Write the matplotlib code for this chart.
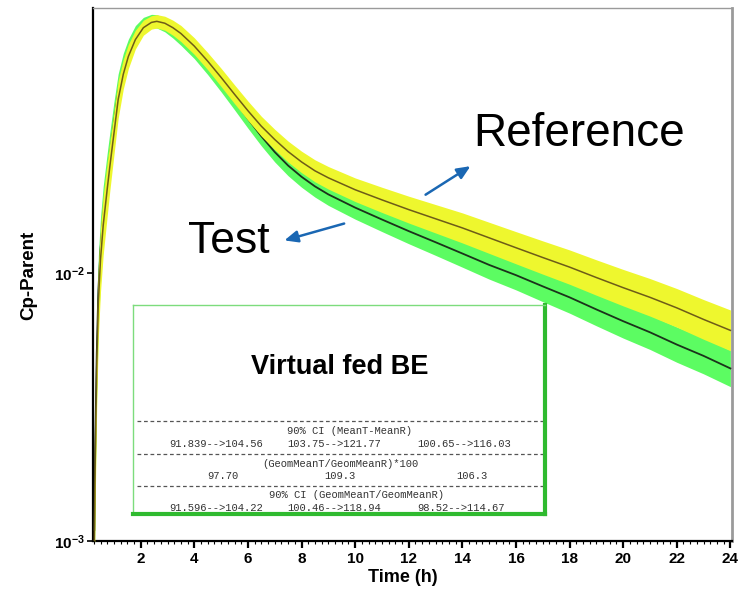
import numpy as np
import matplotlib
matplotlib.use('Agg')
import matplotlib.pyplot as plt
from matplotlib.ticker import FixedLocator, FixedFormatter, MultipleLocator, NullLocator

# mean concentration profiles
time_h = [0.27, 0.30, 0.36, 0.42, 0.50, 0.60, 0.75, 0.85, 1.00, 1.16,
          1.35, 1.54, 1.80, 2.10, 2.40, 2.60, 2.90, 3.20, 3.50, 4.00,
          4.50, 5.00, 5.50, 6.00, 6.50, 7.00, 7.50, 8.0, 8.5, 9.0,
          10.0, 11.0, 12.0, 13.0, 14.0, 15.0, 16.0, 17.0, 18.0, 19.0,
          20.0, 21.0, 22.0, 23.0, 24.0]
ref_mean = [0.0010, 0.0019, 0.0045, 0.0078, 0.0112, 0.0150, 0.0205, 0.0250, 0.0330, 0.0443,
            0.0550, 0.0641, 0.0740, 0.0820, 0.0858, 0.0866, 0.0852, 0.0820, 0.0780, 0.0700,
            0.0615, 0.0535, 0.0463, 0.0402, 0.0352, 0.0314, 0.0283, 0.0259, 0.0240, 0.0226,
            0.0204, 0.0187, 0.0172, 0.0159, 0.0147, 0.0135, 0.0124, 0.0114, 0.0105, 0.0096,
            0.0088, 0.0081, 0.0074, 0.0067, 0.0061]
test_mean = [0.0011, 0.0022, 0.0050, 0.0086, 0.0122, 0.0163, 0.0222, 0.0272, 0.0360, 0.0470,
             0.0580, 0.0670, 0.0770, 0.0840, 0.0868, 0.0866, 0.0840, 0.0800, 0.0755, 0.0675,
             0.0590, 0.0510, 0.0438, 0.0375, 0.0323, 0.0282, 0.0251, 0.0228, 0.0210, 0.0196,
             0.0175, 0.0158, 0.0143, 0.0130, 0.0118, 0.0107, 0.0098, 0.0089, 0.0081, 0.0073,
             0.0066, 0.0060, 0.0054, 0.0049, 0.0044]
# half width of the shaded bands, in decades
ref_spread = [0.15, 0.15, 0.14, 0.13, 0.12, 0.11, 0.10, 0.09, 0.08, 0.07,
              0.055, 0.045, 0.035, 0.028, 0.025, 0.025, 0.026, 0.028, 0.030, 0.031,
              0.032, 0.034, 0.035, 0.036, 0.037, 0.038, 0.039, 0.040, 0.041, 0.042,
              0.044, 0.047, 0.050, 0.053, 0.056, 0.058, 0.060, 0.062, 0.064, 0.066,
              0.068, 0.070, 0.072, 0.074, 0.076]
test_spread = [0.15, 0.15, 0.14, 0.13, 0.12, 0.11, 0.10, 0.09, 0.08, 0.07,
               0.055, 0.045, 0.035, 0.028, 0.025, 0.025, 0.026, 0.028, 0.030, 0.031,
               0.032, 0.033, 0.034, 0.035, 0.036, 0.037, 0.038, 0.039, 0.040, 0.041,
               0.043, 0.045, 0.047, 0.049, 0.051, 0.053, 0.055, 0.057, 0.059, 0.061,
               0.063, 0.064, 0.066, 0.067, 0.068]

x_ticks = [2, 4, 6, 8, 10, 12, 14, 16, 18, 20, 22, 24]
y_ticks = [1e-3, 1e-2]
y_tick_labels = [r'$\mathbf{10^{-3}}$', r'$\mathbf{10^{-2}}$']

box_title = 'Virtual fed BE'
ci_headers = ['90% CI (MeanT-MeanR)', '(GeomMeanT/GeomMeanR)*100', '90% CI (GeomMeanT/GeomMeanR)']
ci_values = [['91.839-->104.56', '103.75-->121.77', '100.65-->116.03'],
             ['97.70', '109.3', '106.3'],
             ['91.596-->104.22', '100.46-->118.94', '98.52-->114.67']]

plt.rcParams['font.family'] = ['Liberation Sans', 'DejaVu Sans']
plt.rcParams['mathtext.fontset'] = 'custom'
plt.rcParams['mathtext.bf'] = 'Liberation Sans:bold'
plt.rcParams['mathtext.rm'] = 'Liberation Sans'

W, H = 738, 589
fig = plt.figure(figsize=(W / 100, H / 100), dpi=100)
ax = fig.add_axes([93 / W, 1 - 541 / H, (732 - 93) / W, (541 - 8) / H])

t = np.array(time_h)
ref = np.array(ref_mean)
test = np.array(test_mean)
ref_sp = 10 ** np.array(ref_spread)
test_sp = 10 ** np.array(test_spread)

ax.fill_between(t, test / test_sp, test * test_sp, color='#5cfc62', lw=0, zorder=2)
ax.plot(t, test, color='#1b331b', lw=1.3, zorder=3)
ax.fill_between(t, ref / ref_sp, ref * ref_sp, color='#eef72e', lw=0, zorder=4)
ax.plot(t, ref, color='#6e5c18', lw=1.1, zorder=5)

ax.set_yscale('log')
ax.set_xlim(0.22, 24.06)
ax.set_ylim(1e-3, 0.0971)

ax.xaxis.set_major_locator(FixedLocator(x_ticks))
ax.xaxis.set_minor_locator(MultipleLocator(0.25))
ax.yaxis.set_major_locator(FixedLocator(y_ticks))
ax.yaxis.set_major_formatter(FixedFormatter(y_tick_labels))
ax.yaxis.set_minor_locator(NullLocator())
ax.set_xticklabels([str(v) for v in x_ticks], fontweight='bold', fontsize=11)
ax.tick_params(axis='x', which='major', direction='out', length=5, width=1.6, pad=3)
ax.tick_params(axis='x', which='minor', direction='out', length=2.5, width=0.8)
ax.tick_params(axis='y', which='major', direction='out', length=4, width=1.2, labelsize=11, pad=2)

for side in ['left', 'bottom']:
    ax.spines[side].set_linewidth(1.6)
    ax.spines[side].set_color('black')
ax.spines['top'].set_color('#9a9a9a')
ax.spines['top'].set_linewidth(1.0)
ax.spines['right'].set_color('#9a9a9a')
ax.spines['right'].set_linewidth(2.0)

fig.text(403 / W, 1 - 578 / H, 'Time (h)', ha='center', va='center',
         fontsize=13, fontweight='bold')
fig.text(29 / W, 1 - 275 / H, 'Cp-Parent', ha='center', va='center',
         rotation=90, fontsize=13.5, fontweight='bold')

# annotations
ax.text(18.36, 0.0330, 'Reference', fontsize=33, ha='center', va='center', zorder=7)
ax.text(5.30, 0.0131, 'Test', fontsize=32, ha='center', va='center', zorder=7)
arrow_kw = dict(arrowstyle='-|>,head_length=0.8,head_width=0.35', color='#1a67b3', lw=1.8)
ax.annotate('', xy=(14.39, 0.0253), xytext=(12.54, 0.0193), arrowprops=arrow_kw, zorder=7)
ax.annotate('', xy=(7.26, 0.01312), xytext=(9.69, 0.01536), arrowprops=arrow_kw, zorder=7)

# results box
bx = fig.add_axes([133 / W, 1 - 514 / H, (545 - 133) / W, (514 - 305) / H])
bx.set_xlim(0, 1)
bx.set_ylim(0, 1)
bx.set_xticks([])
bx.set_yticks([])
bx.set_facecolor('white')
for side in ['left', 'top']:
    bx.spines[side].set_color('#7ddc7d')
    bx.spines[side].set_linewidth(1.0)
for side in ['right', 'bottom']:
    bx.spines[side].set_color('#2fba2f')
    bx.spines[side].set_linewidth(3.0)

bx.text(0.502, 0.703, box_title, ha='center', va='center', fontsize=19.5, fontweight='bold')

mono = dict(family=['Liberation Mono', 'DejaVu Sans Mono'], fontsize=7.6, color='#333333',
            ha='center', va='center')
for y in [0.447, 0.289, 0.136]:
    bx.plot([0.01, 0.995], [y, y], color='#555555', lw=0.9, linestyle=(0, (3, 2.2)))

header_pos = [(0.526, 0.396), (0.503, 0.240), (0.543, 0.090)]
value_y = [0.337, 0.181, 0.031]
value_x = [[0.201, 0.489, 0.803], [0.218, 0.502, 0.822], [0.201, 0.489, 0.795]]
for header, (hx, hy), vals, vy, vxs in zip(ci_headers, header_pos, ci_values, value_y, value_x):
    bx.text(hx, hy, header, **mono)
    for v, vx in zip(vals, vxs):
        bx.text(vx, vy, v, **mono)

fig.savefig('out.png', dpi=100, facecolor='white')
